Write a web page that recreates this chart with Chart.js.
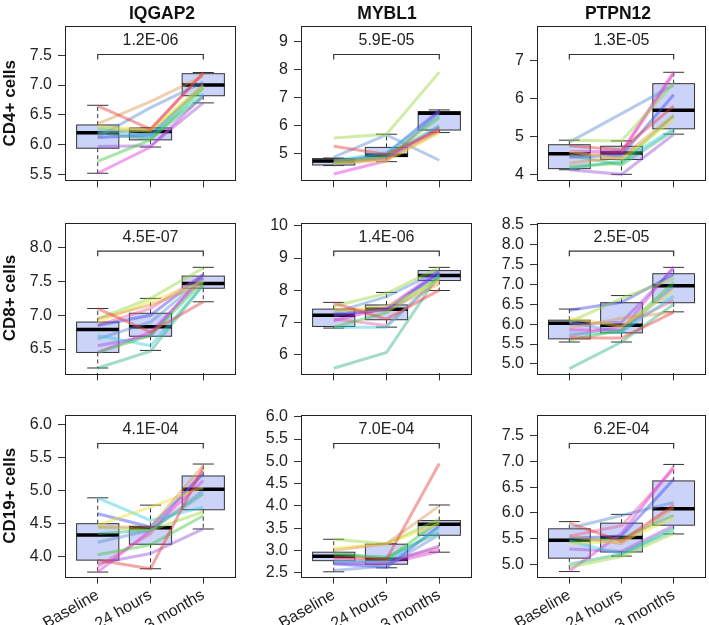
<!DOCTYPE html>
<html>
<head>
<meta charset="utf-8">
<script src="https://cdn.jsdelivr.net/npm/chart.js@4.4.0/dist/chart.umd.min.js"></script>
<style>
    body { margin: 0; background: #fff; }
    #grid { position: relative; width: 709px; height: 625px; overflow: hidden; }
    #grid canvas { position: absolute; }
</style>
</head>
<body>
<div id="grid"></div>
<script>
// --- data ---
const timepoints = ['Baseline', '24 hours', '3 months'];
const genes = ['IQGAP2', 'MYBL1', 'PTPN12'];
const cellTypes = ['CD4+ cells', 'CD8+ cells', 'CD19+ cells'];
const pValues = [
    ['1.2E-06', '5.9E-05', '1.3E-05'],
    ['4.5E-07', '1.4E-06', '2.5E-05'],
    ['4.1E-04', '7.0E-04', '6.2E-04']
];

// y tick values and axis limits, row by row
const yTicks = [
    [[5.5, 6.0, 6.5, 7.0, 7.5], [5, 6, 7, 8, 9], [4, 5, 6, 7]],
    [[6.5, 7.0, 7.5, 8.0], [6, 7, 8, 9, 10], [5.0, 5.5, 6.0, 6.5, 7.0, 7.5, 8.0, 8.5]],
    [[4.0, 4.5, 5.0, 5.5, 6.0], [2.5, 3.0, 3.5, 4.0, 4.5, 5.0, 5.5, 6.0], [5.0, 5.5, 6.0, 6.5, 7.0, 7.5]]
];
const yLimits = [
    [[5.40, 7.99], [4.05, 9.57], [3.84, 7.91]],
    [[6.14, 8.37], [5.41, 10.1], [4.76, 8.555]],
    [[3.70, 6.14], [2.41, 6.04], [4.76, 7.90]]
];

// box stats per timepoint: [lower whisker, q1, median, q3, upper whisker]
const iqgap2Cd4Box = [[5.52, 5.94, 6.20, 6.33, 6.66], [5.96, 6.08, 6.22, 6.28, 6.28], [6.70, 6.82, 7.00, 7.19, 7.21]];
const mybl1Cd4Box = [[4.58, 4.60, 4.74, 4.83, 4.85], [4.72, 4.90, 4.95, 5.23, 5.70], [5.76, 5.85, 6.45, 6.51, 6.57]];
const ptpn12Cd4Box = [[4.12, 4.15, 4.54, 4.78, 4.90], [4.00, 4.39, 4.56, 4.74, 4.88], [5.06, 5.20, 5.69, 6.39, 6.69]];
const iqgap2Cd8Box = [[6.22, 6.45, 6.79, 6.90, 7.10], [6.48, 6.69, 6.83, 7.03, 7.25], [7.20, 7.40, 7.47, 7.58, 7.71]];
const mybl1Cd8Box = [[6.82, 6.87, 7.22, 7.41, 7.62], [6.85, 7.08, 7.41, 7.54, 7.93], [7.99, 8.30, 8.46, 8.61, 8.71]];
const ptpn12Cd8Box = [[5.55, 5.63, 6.02, 6.10, 6.38], [5.55, 5.78, 5.97, 6.54, 6.72], [6.31, 6.54, 6.97, 7.27, 7.43]];
const iqgap2Cd19Box = [[3.77, 3.95, 4.33, 4.50, 4.89], [3.82, 4.19, 4.44, 4.46, 4.78], [4.42, 4.71, 5.02, 5.22, 5.40]];
const mybl1Cd19Box = [[2.52, 2.77, 2.87, 2.96, 3.25], [2.61, 2.69, 2.80, 3.14, 3.15], [2.96, 3.34, 3.59, 3.67, 4.02]];
const ptpn12Cd19Box = [[4.86, 5.12, 5.47, 5.69, 5.83], [5.16, 5.24, 5.52, 5.80, 5.97], [5.59, 5.76, 6.08, 6.62, 6.94]];

// one row per subject: [baseline, 24 hours, 3 months]
const iqgap2Cd4Lines = [
    [6.65, 6.26, 7.20], [6.35, 6.72, 7.15], [6.30, 6.25, 7.00], [6.28, 6.22, 6.95],
    [5.72, 6.08, 6.95], [6.20, 6.10, 6.80], [6.25, 6.15, 6.85], [6.13, 6.62, 7.05],
    [6.12, 6.16, 7.00], [5.97, 5.98, 6.70], [5.52, 5.96, 6.82], [6.20, 6.25, 7.20]
];
const mybl1Cd4Lines = [
    [5.27, 4.98, 5.85], [4.75, 4.80, 5.80], [4.65, 4.75, 5.75], [5.57, 5.70, 7.92],
    [4.65, 4.90, 6.30], [4.70, 4.95, 6.00], [4.75, 5.05, 6.40], [4.88, 5.68, 4.77],
    [4.70, 5.00, 6.55], [4.60, 4.85, 5.95], [4.28, 4.75, 6.50], [4.70, 4.85, 5.90]
];
const ptpn12Cd4Lines = [
    [4.75, 4.65, 5.80], [4.30, 4.45, 5.55], [4.60, 4.40, 5.45], [4.90, 4.88, 6.40],
    [4.20, 4.30, 5.55], [4.50, 4.25, 5.15], [4.15, 4.35, 5.20], [4.85, 5.60, 6.35],
    [4.45, 4.50, 6.10], [4.12, 4.00, 5.05], [4.60, 4.60, 6.70], [4.50, 4.55, 6.65]
];
const iqgap2Cd8Lines = [
    [7.10, 6.75, 7.20], [6.95, 7.15, 7.45], [6.90, 7.20, 7.50], [6.95, 7.25, 7.70],
    [6.45, 6.70, 7.50], [6.22, 6.47, 7.45], [6.70, 6.55, 7.45], [6.65, 6.90, 7.55],
    [6.85, 7.00, 7.60], [6.55, 6.70, 7.60], [6.45, 6.75, 7.55], [6.85, 7.10, 7.60]
];
const mybl1Cd8Lines = [
    [7.60, 7.10, 8.00], [7.40, 7.35, 8.20], [7.35, 7.50, 8.30], [7.50, 7.90, 8.70],
    [6.85, 7.30, 8.40], [5.57, 6.06, 8.50], [6.85, 6.85, 8.45], [7.30, 7.80, 8.60],
    [7.25, 7.40, 8.55], [7.20, 7.40, 8.50], [7.05, 7.45, 8.60], [7.10, 6.90, 8.35]
];
const ptpn12Cd8Lines = [
    [5.65, 5.65, 6.30], [5.90, 6.15, 6.30], [6.15, 5.95, 6.85], [6.05, 6.65, 7.15],
    [5.60, 5.85, 7.05], [4.88, 5.55, 6.50], [5.75, 5.80, 6.70], [6.05, 5.80, 6.95],
    [6.35, 6.55, 7.25], [6.00, 6.05, 7.40], [5.85, 5.85, 7.45], [5.70, 5.95, 6.60]
];
const iqgap2Cd19Lines = [
    [3.95, 3.82, 5.35], [4.45, 4.45, 5.38], [4.48, 4.75, 5.05], [4.45, 4.40, 4.68],
    [4.03, 4.18, 4.62], [4.35, 4.40, 4.95], [4.89, 4.55, 4.75], [4.22, 4.40, 5.00],
    [4.65, 4.45, 5.25], [3.90, 4.05, 4.42], [3.77, 4.40, 5.15], [3.85, 4.35, 5.30]
];
const mybl1Cd19Lines = [
    [2.85, 2.80, 4.95], [3.00, 3.15, 4.00], [3.05, 3.15, 3.60], [3.25, 3.15, 3.70],
    [2.95, 2.80, 3.65], [2.90, 2.85, 3.40], [2.75, 2.75, 3.50], [2.55, 2.65, 3.35],
    [2.70, 2.62, 3.55], [2.75, 2.72, 3.10], [2.70, 2.70, 2.98], [2.80, 2.75, 3.05]
];
const ptpn12Cd19Lines = [
    [5.80, 5.45, 6.15], [5.55, 5.40, 6.10], [5.40, 5.45, 5.90], [4.95, 5.15, 5.60],
    [5.45, 5.50, 5.95], [5.00, 5.20, 5.70], [5.45, 5.20, 5.65], [5.70, 5.95, 6.20],
    [5.50, 5.55, 6.65], [5.30, 5.25, 5.75], [4.87, 5.60, 6.90], [5.55, 5.75, 6.85]
];

// --- styling / layout ---
const FONT = "'Liberation Sans', Arial, Helvetica, sans-serif";
const lineColors = [
    'rgba(230, 60, 60, 0.45)', 'rgba(220, 150, 80, 0.45)', 'rgba(235, 225, 50, 0.45)', 'rgba(150, 215, 60, 0.45)',
    'rgba(60, 200, 60, 0.45)', 'rgba(50, 180, 130, 0.45)', 'rgba(50, 205, 220, 0.45)', 'rgba(90, 140, 210, 0.45)',
    'rgba(60, 70, 235, 0.45)', 'rgba(150, 80, 215, 0.45)', 'rgba(225, 50, 225, 0.45)', 'rgba(235, 90, 150, 0.45)'
];
const colLeft = [0, 236, 472];
const padRight = [1, 1, 3];
const titleX = [162, 151, 146];
const rowTop = [0, 196, 389];
const rowHeight = [196, 193, 236];
const frameTop = [26, 26.7, 26];
const frameBottom = [187.7, 186.3, 187.7];

Chart.defaults.font.family = FONT;

const panelBoxes = [
    [iqgap2Cd4Box, mybl1Cd4Box, ptpn12Cd4Box],
    [iqgap2Cd8Box, mybl1Cd8Box, ptpn12Cd8Box],
    [iqgap2Cd19Box, mybl1Cd19Box, ptpn12Cd19Box]
];
const panelLines = [
    [iqgap2Cd4Lines, mybl1Cd4Lines, ptpn12Cd4Lines],
    [iqgap2Cd8Lines, mybl1Cd8Lines, ptpn12Cd8Lines],
    [iqgap2Cd19Lines, mybl1Cd19Lines, ptpn12Cd19Lines]
];

function strokeLine(ctx, x1, y1, x2, y2) {
    ctx.beginPath();
    ctx.moveTo(x1, y1);
    ctx.lineTo(x2, y2);
    ctx.stroke();
}

function makePanel(row, col) {
    const grid = document.getElementById('grid');
    const canvas = document.createElement('canvas');
    canvas.width = 237;
    canvas.height = rowHeight[row];
    canvas.style.left = colLeft[col] + 'px';
    canvas.style.top = rowTop[row] + 'px';
    grid.appendChild(canvas);

    const stats = panelBoxes[row][col];
    const ticks = yTicks[row][col];
    const decimals = ticks.some(t => t % 1 !== 0) ? 1 : 0;

    const datasets = panelLines[row][col].map((vals, i) => ({
        data: vals.map((v, j) => ({ x: j + 1, y: v })),
        borderColor: lineColors[i % lineColors.length],
        borderWidth: 3,
        pointRadius: 0,
        tension: 0,
        fill: false
    }));

    // boxplots go under the subject lines
    const boxPlugin = {
        id: 'boxes',
        beforeDatasetsDraw(chart) {
            const { ctx, scales: { x, y } } = chart;
            ctx.save();
            stats.forEach((s, i) => {
                const [lo, q1, med, q3, hi] = s;
                const cx = x.getPixelForValue(i + 1);
                const half = x.getPixelForValue(i + 1.4) - cx;
                const cap = half / 2;
                ctx.strokeStyle = '#333';
                ctx.lineWidth = 1;
                ctx.setLineDash([4, 3]);
                strokeLine(ctx, cx, y.getPixelForValue(q3), cx, y.getPixelForValue(hi));
                strokeLine(ctx, cx, y.getPixelForValue(q1), cx, y.getPixelForValue(lo));
                ctx.setLineDash([]);
                strokeLine(ctx, cx - cap, y.getPixelForValue(hi), cx + cap, y.getPixelForValue(hi));
                strokeLine(ctx, cx - cap, y.getPixelForValue(lo), cx + cap, y.getPixelForValue(lo));
                const top = y.getPixelForValue(q3);
                const bottom = y.getPixelForValue(q1);
                ctx.fillStyle = '#ccd3f8';
                ctx.fillRect(cx - half, top, half * 2, bottom - top);
                ctx.strokeRect(cx - half, top, half * 2, bottom - top);
                ctx.strokeStyle = '#000';
                ctx.lineWidth = 3.5;
                strokeLine(ctx, cx - half, y.getPixelForValue(med), cx + half, y.getPixelForValue(med));
            });
            ctx.restore();
        },
        afterDraw(chart) {
            const { ctx, chartArea: a, scales: { x } } = chart;
            ctx.save();
            // frame
            ctx.strokeStyle = '#222';
            ctx.lineWidth = 1;
            ctx.strokeRect(Math.round(a.left) + 0.5, Math.round(a.top) + 0.5,
                Math.round(a.right - a.left) - 1, Math.round(a.bottom - a.top));
            // comparison bracket baseline vs 3 months
            const x1 = x.getPixelForValue(1);
            const x3 = x.getPixelForValue(3);
            const by = a.top + 28.5;
            ctx.strokeStyle = '#333';
            ctx.lineWidth = 1.2;
            ctx.beginPath();
            ctx.moveTo(x1, by + 5);
            ctx.lineTo(x1, by);
            ctx.lineTo(x3, by);
            ctx.lineTo(x3, by + 5);
            ctx.stroke();
            ctx.fillStyle = '#222';
            ctx.font = '16px ' + FONT;
            ctx.textAlign = 'center';
            ctx.textBaseline = 'middle';
            ctx.fillText(pValues[row][col], x.getPixelForValue(2), a.top + 15);
            if (row === 0) {
                ctx.font = 'bold 17.5px ' + FONT;
                ctx.fillStyle = '#111';
                ctx.fillText(genes[col], titleX[col], 14);
            }
            ctx.restore();
        }
    };

    new Chart(canvas, {
        type: 'line',
        data: { datasets },
        options: {
            responsive: false,
            animation: false,
            events: [],
            layout: { padding: { top: frameTop[row], right: padRight[col], left: 0, bottom: 0 } },
            plugins: { legend: { display: false }, tooltip: { enabled: false } },
            scales: {
                x: {
                    type: 'linear',
                    min: 0.38,
                    max: 3.62,
                    afterBuildTicks: s => { s.ticks = [1, 2, 3].map(v => ({ value: v })); },
                    afterFit: s => { s.height = rowHeight[row] - frameBottom[row]; },
                    border: { display: false },
                    grid: { drawOnChartArea: false, drawTicks: true, tickLength: 7, color: '#333' },
                    ticks: {
                        display: row === 2,
                        autoSkip: false,
                        minRotation: 30,
                        maxRotation: 30,
                        padding: 2,
                        color: '#222',
                        font: { size: 16 },
                        callback: v => timepoints[v - 1]
                    }
                },
                y: {
                    min: yLimits[row][col][0],
                    max: yLimits[row][col][1],
                    afterBuildTicks: s => { s.ticks = ticks.map(v => ({ value: v })); },
                    afterFit: s => { s.width = 65; },
                    border: { display: false },
                    grid: { drawOnChartArea: false, drawTicks: true, tickLength: 7, color: '#333' },
                    ticks: {
                        padding: 6,
                        color: '#222',
                        font: { size: 16 },
                        callback: v => v.toFixed(decimals)
                    },
                    title: {
                        display: col === 0,
                        text: cellTypes[row],
                        color: '#111',
                        font: { size: 17, weight: 'bold' },
                        padding: { top: 0, bottom: 0 }
                    }
                }
            }
        },
        plugins: [boxPlugin]
    });
}

for (let r = 0; r < 3; r++) {
    for (let c = 0; c < 3; c++) {
        makePanel(r, c);
    }
}
</script>
</body>
</html>
